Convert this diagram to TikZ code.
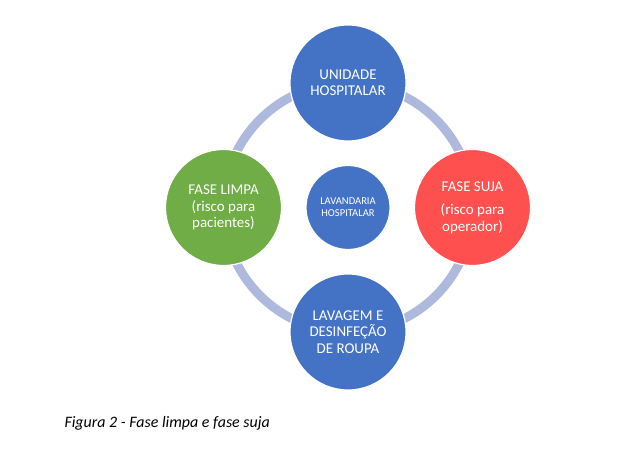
\documentclass[tikz,border=0pt]{standalone}
\usepackage{fontspec}
\setmainfont{Carlito}
\usetikzlibrary{calc}
\def\Ring{124.5}
\def\Outer{58}
\def\Inner{42}
\definecolor{hospblue}{HTML}{4472C4}
\definecolor{cleangreen}{HTML}{70AD47}
\definecolor{dirtyred}{HTML}{FF5050}
\definecolor{ringblue}{HTML}{AEBADD}
\tikzset{
  phase/.style={circle, draw=white, line width=1.2bp, minimum size=2*\Outer bp,
    inner sep=0pt, align=center, text=white, font=\fontsize{15}{16.5}\selectfont},
  hub/.style={phase, minimum size=2*\Inner bp, font=\fontsize{10.6}{12}\selectfont},
  ring/.style={ringblue, line width=9bp}
}

\begin{document}
\begin{tikzpicture}[x=1bp,y=1bp]
  \useasboundingbox (0,0) rectangle (640,455);
  \coordinate (O) at (348,247.5);
  \coordinate (P1) at ($ (O) + (90:\Ring) $);
  \coordinate (P2) at ($ (O) + (0:\Ring) $);
  \coordinate (P3) at ($ (O) + (270:\Ring) $);
  \coordinate (P4) at ($ (O) + (180:\Ring) $);
  % ring
  \draw [ring] (O) circle(\Ring);
  % phases
  \node [hub, fill=hospblue] (lav) at (O) {LAVANDARIA\\HOSPITALAR};
  \node [phase, fill=hospblue] (uni) at (P1) {UNIDADE\\HOSPITALAR};
  \node [phase, fill=dirtyred] (suja) at (P2) {FASE SUJA\\[7bp](risco para\\operador)};
  \node [phase, fill=hospblue] (lavag) at (P3) {LAVAGEM E\\DESINFEÇÃO\\DE ROUPA};
  \node [phase, fill=cleangreen] (limpa) at (P4) {FASE LIMPA\\(risco para\\pacientes)};
  % caption
  \node [anchor=west, font=\fontsize{16}{18}\selectfont\itshape] (cap) at (61,32) {Figura 2 - Fase limpa e fase suja};
\end{tikzpicture}
\end{document}
